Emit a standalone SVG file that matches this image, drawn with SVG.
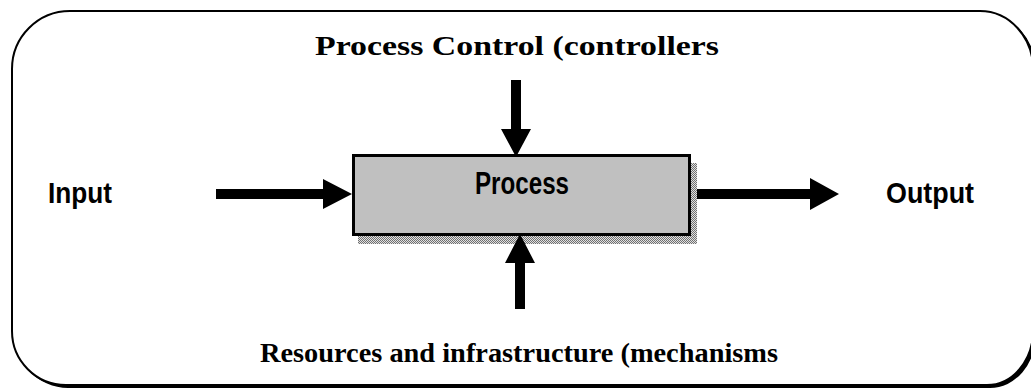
<svg xmlns="http://www.w3.org/2000/svg" width="1031" height="388" viewBox="0 0 1031 388">
  <defs>
    <pattern id="dots" width="2" height="2" patternUnits="userSpaceOnUse">
      <rect width="2" height="2" fill="#e0e0e0"/>
      <rect width="1" height="1" fill="#707070"/>
      <rect x="1" y="1" width="1" height="1" fill="#707070"/>
    </pattern>
  </defs>
  <style>
    .frame { fill: #ffffff; stroke: #000000; stroke-width: 2; }
    .shadow { fill: #000000; }
    .sans { font-family: "Liberation Sans", Arial, sans-serif; font-weight: bold; fill: #000000; }
    .serif { font-family: "Liberation Serif", "Times New Roman", serif; font-weight: bold; fill: #000000; }
    .arrow { fill: #000000; }
  </style>

  <g id="frame">
    <path class="shadow" d="M14,71 A58,58 0 0 1 72,13 L982,13 A53,58 0 0 1 1036,72 L1036,334 A46,54 0 0 1 990,388 L68,388 A55,54 0 0 1 14,333 Z"/>
    <path class="frame" d="M12,69 A58,58 0 0 1 70,11 L980,11 A53,58 0 0 1 1033,69 L1033,331 A46,54 0 0 1 987,385 L66,385 A54,54 0 0 1 12,331 Z"/>
  </g>

  <g id="process">
    <rect x="358" y="236" width="339" height="8" fill="url(#dots)"/>
    <rect x="691" y="163" width="6" height="81" fill="url(#dots)"/>
    <rect x="353.5" y="155.5" width="336" height="79" fill="#c0c0c0" stroke="#000000" stroke-width="3"/>
    <text class="sans" x="522" y="194" font-size="31" text-anchor="middle" textLength="94" lengthAdjust="spacingAndGlyphs">Process</text>
  </g>

  <g id="input">
    <text class="sans" x="48" y="203" font-size="30" textLength="64" lengthAdjust="spacingAndGlyphs">Input</text>
  </g>

  <g id="output">
    <text class="sans" x="886" y="203" font-size="30" textLength="88" lengthAdjust="spacingAndGlyphs">Output</text>
  </g>

  <g id="control">
    <text class="serif" x="517" y="55" font-size="28" text-anchor="middle" textLength="404" lengthAdjust="spacingAndGlyphs">Process Control (controllers</text>
  </g>

  <g id="resources">
    <text class="serif" x="519" y="362" font-size="28" text-anchor="middle" textLength="518" lengthAdjust="spacingAndGlyphs">Resources and infrastructure (mechanisms</text>
  </g>

  <g id="connectors">
    <polygon class="arrow" points="216,189 323,189 323,179 352,194 323,209 323,199 216,199"/>
    <polygon class="arrow" points="697,189 810,189 810,178 839,194 810,210 810,199 697,199"/>
    <polygon class="arrow" points="511,80 521,80 521,129 531,129 516,157 501,129 511,129"/>
    <polygon class="arrow" points="515,309 525,309 525,263 535,263 520,234 505,263 515,263"/>
  </g>
</svg>
